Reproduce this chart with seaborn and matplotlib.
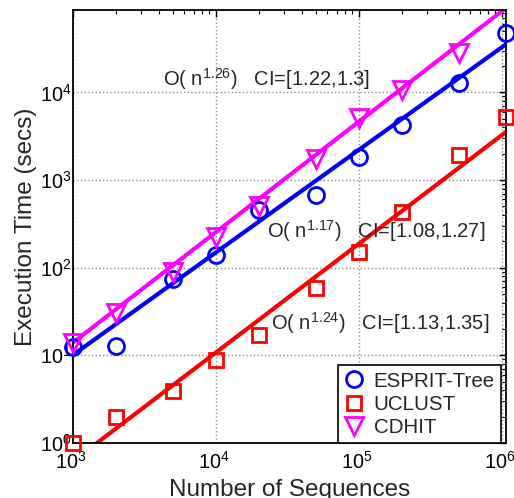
import numpy as np
import pandas as pd
import matplotlib
matplotlib.use("Agg")
import matplotlib.pyplot as plt
import seaborn as sns
from matplotlib.lines import Line2D
from matplotlib.ticker import LogLocator, NullFormatter
from matplotlib.transforms import ScaledTranslation

# ---------------- data ----------------
methods = ["ESPRIT-Tree", "UCLUST", "CDHIT"]
n_esprit = [1e3, 2e3, 5e3, 1e4, 2e4, 5e4, 1e5, 2e5, 5e5, 1.07e6]
t_esprit = [12.5, 12.8, 75, 141, 455, 672, 1840, 4230, 12800, 47000]
n_uclust = [1e3, 2e3, 5e3, 1e4, 2e4, 5e4, 1e5, 2e5, 5e5, 1.07e6]
t_uclust = [1.0, 2.0, 3.95, 8.8, 17, 59, 150, 434, 1920, 5270]
n_cdhit = [1e3, 2e3, 5e3, 1e4, 2e4, 5e4, 1e5, 2e5, 5e5]
t_cdhit = [13.7, 30.8, 90, 223, 505, 1730, 5050, 10600, 28000]

fit_exponent = [1.17, 1.24, 1.26]
fit_at_1000 = [10.1, 0.62, 14.0]
ci_low = [1.08, 1.13, 1.22]
ci_high = [1.27, 1.35, 1.3]

# ---------------- style ----------------
sns.set_style("white")
plt.rcParams["font.family"] = ["Liberation Sans", "DejaVu Sans"]
plt.rcParams["mathtext.default"] = "regular"

colors = ["#0000ff", "#ff0000", "#ff00ff"]
markers = ["o", "s", "v"]
msizes = [11.5, 10, 13]

fig = plt.figure(figsize=(5.14, 4.98), dpi=100)
ax = fig.add_axes([73 / 514, 1 - 443 / 498, (506 - 73) / 514, (443 - 10) / 498])

ns = [n_esprit, n_uclust, n_cdhit]
ts = [t_esprit, t_uclust, t_cdhit]
x_max = 1.07e6

# fit lines
for i in range(3):
    xl = np.array([1e3, x_max])
    yl = fit_at_1000[i] * (xl / 1e3) ** fit_exponent[i]
    sns.lineplot(x=xl, y=yl, ax=ax, color=colors[i], linewidth=3.0,
                 estimator=None, sort=False, legend=False)

# data points
handles = []
for i in range(3):
    df = pd.DataFrame({"n": ns[i], "t": ts[i]})
    sns.lineplot(data=df, x="n", y="t", ax=ax, linestyle="none",
                 marker=markers[i], markersize=msizes[i],
                 markerfacecolor="none", markeredgecolor=colors[i],
                 markeredgewidth=2.0, color=colors[i], estimator=None,
                 legend=False, clip_on=False, zorder=5)
    handles.append(Line2D([], [], linestyle="none", marker=markers[i],
                          markersize=msizes[i], markerfacecolor="none",
                          markeredgecolor=colors[i], markeredgewidth=2.0))

ax.set_xscale("log")
ax.set_yscale("log")
ax.set_xlim(1e3, x_max)
ax.set_ylim(1, 8.7e4)

for axis in (ax.xaxis, ax.yaxis):
    axis.set_major_locator(LogLocator(base=10, numticks=20))
    axis.set_minor_locator(LogLocator(base=10, subs=np.arange(2, 10), numticks=20))
    axis.set_minor_formatter(NullFormatter())

ax.grid(True, which="major", linestyle=":", color="0.55", linewidth=1.0)
ax.grid(False, which="minor")
ax.tick_params(which="both", direction="in", top=True, right=True,
               colors="black", labelsize=14.3)
ax.tick_params(which="major", length=5, width=1)
ax.tick_params(which="minor", length=3, width=0.8)
ax.tick_params(axis="y", pad=1)
ax.tick_params(axis="x", pad=6)
for s in ax.spines.values():
    s.set_color("black")
    s.set_linewidth(1.3)

ax.set_xlabel("Number of Sequences", fontsize=17.5, labelpad=4)
ax.set_ylabel("Execution Time (secs)", fontsize=17.5, labelpad=2)

# annotations
ann_pos = [(2.26e4, 217), (2.41e4, 19.4), (4.28e3, 1.18e4)]
for i in range(3):
    txt = f"O( n$^{{{fit_exponent[i]}}}$)   CI=[{ci_low[i]},{ci_high[i]}]"
    ax.text(ann_pos[i][0], ann_pos[i][1], txt, fontsize=14.5,
            ha="left", va="baseline", zorder=6)

leg = ax.legend(handles, methods, loc="lower right",
                bbox_to_anchor=(0.988, 0.0), borderaxespad=0,
                fontsize=14.8, frameon=True, fancybox=False,
                edgecolor="black", framealpha=1, handlelength=1.0,
                handletextpad=0.45, borderpad=0.3, labelspacing=0.2)
leg.get_frame().set_linewidth(1.2)
leg.set_zorder(10)

fig.canvas.draw()
off = ScaledTranslation(-2 / 100, 0, fig.dpi_scale_trans)
for lbl in ax.xaxis.get_majorticklabels():
    lbl.set_transform(lbl.get_transform() + off)

fig.savefig("out.png", dpi=100)
